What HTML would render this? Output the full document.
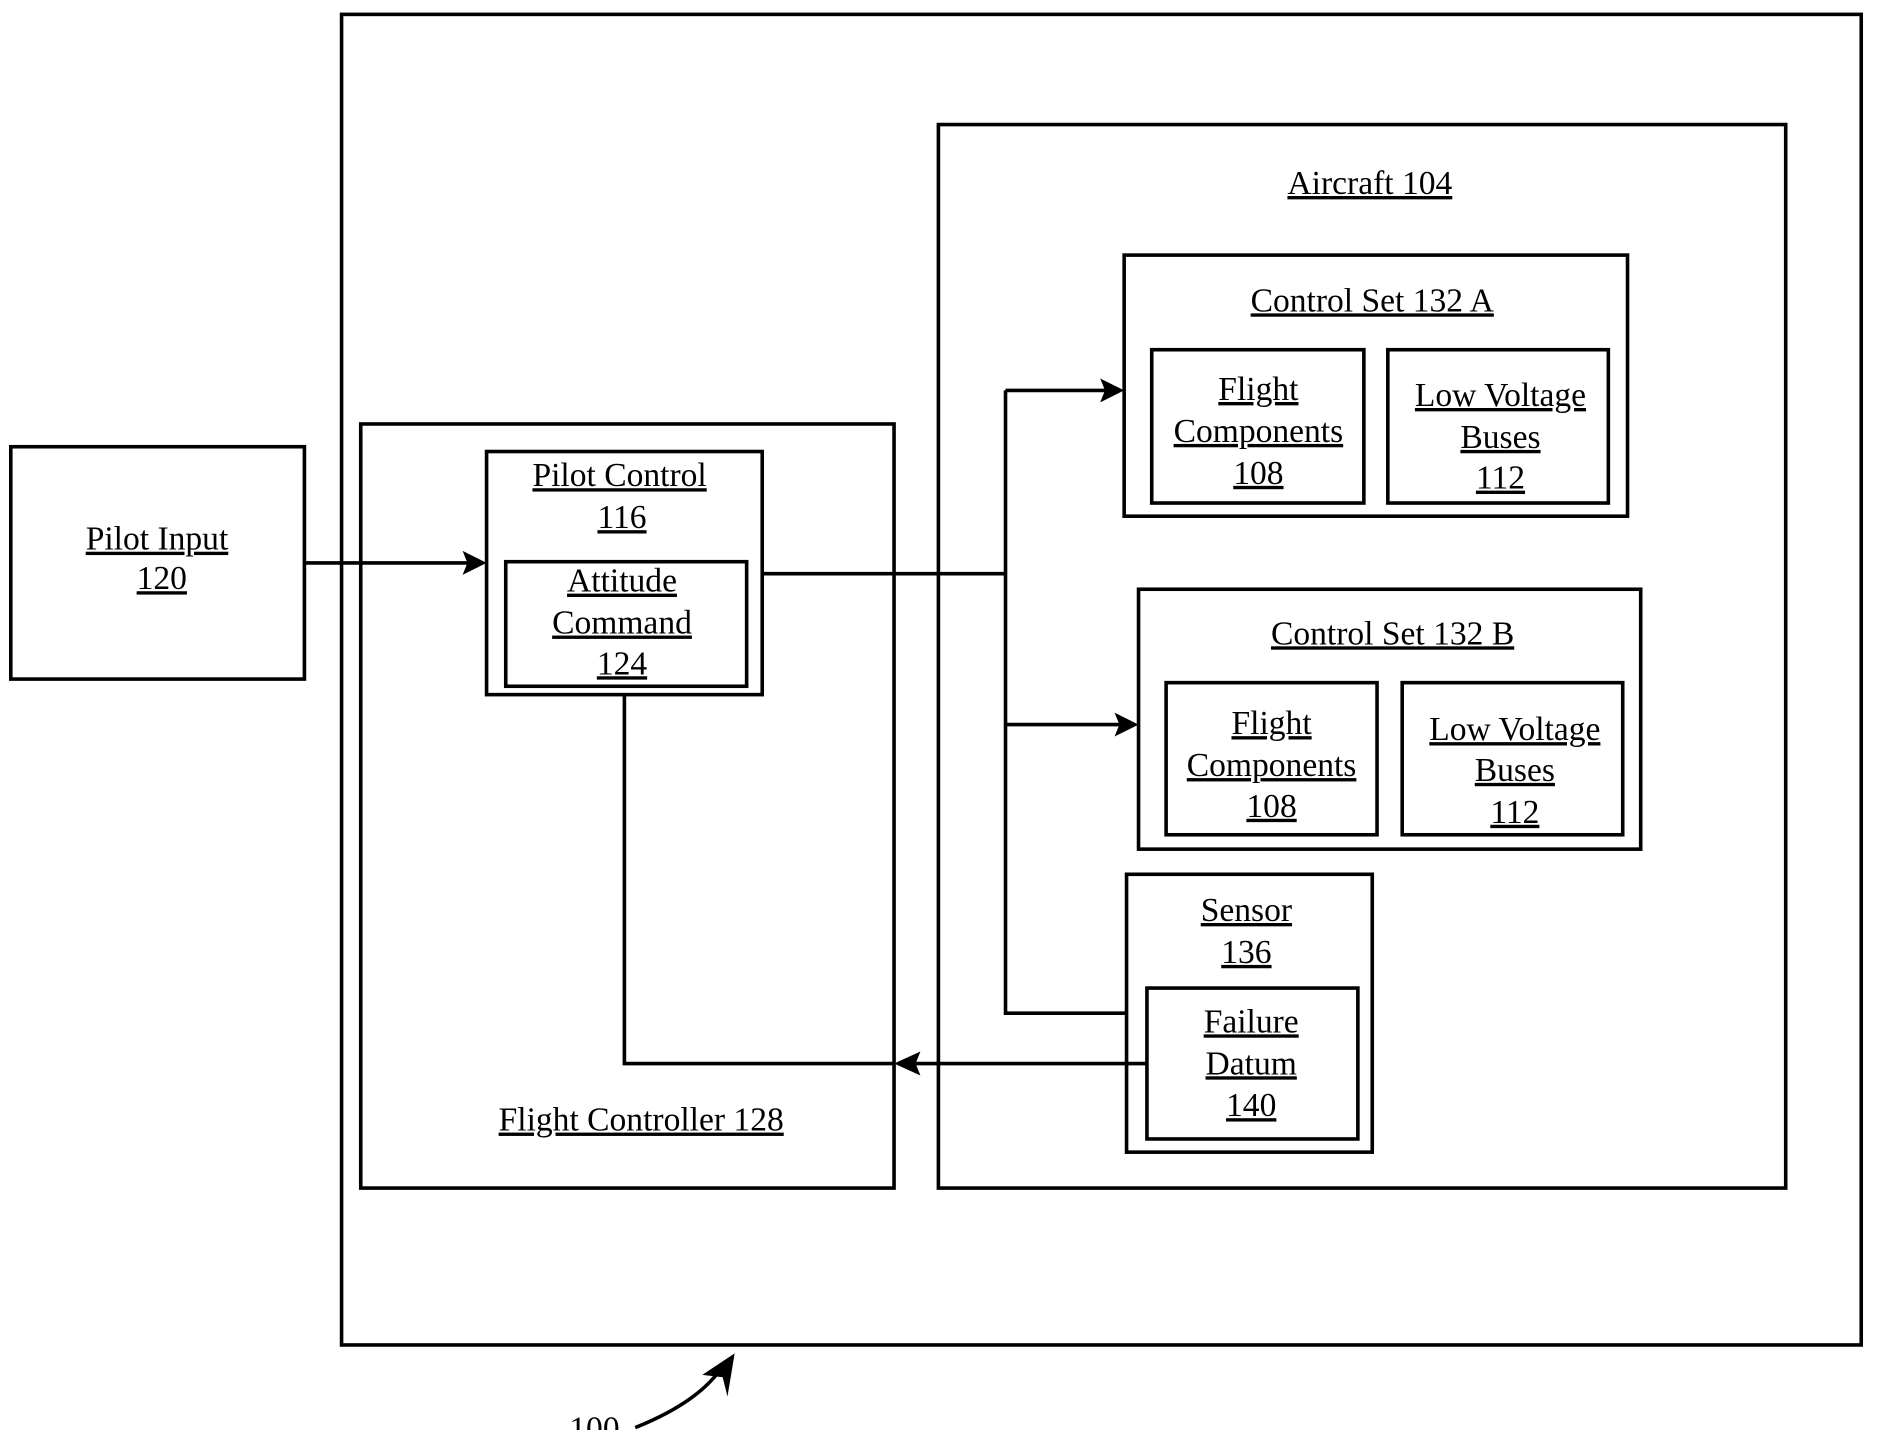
<!DOCTYPE html>
<html><head><style>html,body{margin:0;padding:0;background:#fff}svg{display:block}</style></head>
<body>
<svg width="1878" height="1430" viewBox="0 0 1567 1194" preserveAspectRatio="none" xmlns="http://www.w3.org/2000/svg">
<g fill="none" stroke="#000" stroke-width="3">
<rect x="285" y="12" width="1268" height="1111"/>
<rect x="783" y="104" width="707" height="888"/>
<rect x="938" y="213" width="420" height="218"/>
<rect x="961" y="292" width="177" height="128"/>
<rect x="1158" y="292" width="184" height="128"/>
<rect x="950" y="492" width="419" height="217"/>
<rect x="973" y="570" width="176" height="127"/>
<rect x="1170" y="570" width="184" height="127"/>
<rect x="940" y="730" width="205" height="232"/>
<rect x="957" y="825" width="176" height="126"/>
<rect x="9" y="373" width="245" height="194"/>
<rect x="301" y="354" width="445" height="638"/>
<rect x="406" y="377" width="230" height="203"/>
<rect x="422" y="469" width="201" height="104"/>
<path d="M254 470H398"/>
<path d="M636 479H839M839 326V846H940M839 326H930M839 605H942"/>
<path d="M957 888H756M746 888H521V580"/>
<path d="M530 1192C560 1180 585 1165 600 1145"/>
</g>
<g fill="#000">
<path d="M406 470L386 460L390 470L386 480Z"/>
<path d="M938 326L918 316L922 326L918 336Z"/>
<path d="M950 605L930 595L934 605L930 615Z"/>
<path d="M746 888L768 878L764 888L768 898Z"/>
<path d="M613 1130L586 1148L603 1150L607 1166Z"/>
</g>
<g font-family="Liberation Serif, serif" font-size="28" text-anchor="middle" text-decoration="underline" fill="#000">
<text x="1143" y="162">Aircraft 104</text>
<text x="1145" y="260">Control Set 132 A</text>
<text x="1050" y="334">Flight</text><text x="1050" y="369">Components</text><text x="1050" y="404">108</text>
<text x="1252" y="339">Low Voltage</text><text x="1252" y="374">Buses</text><text x="1252" y="408">112</text>
<text x="1162" y="538">Control Set 132 B</text>
<text x="1061" y="613">Flight</text><text x="1061" y="648">Components</text><text x="1061" y="682">108</text>
<text x="1264" y="618">Low Voltage</text><text x="1264" y="652">Buses</text><text x="1264" y="687">112</text>
<text x="1040" y="769">Sensor</text><text x="1040" y="804">136</text>
<text x="1044" y="862">Failure</text><text x="1044" y="897">Datum</text><text x="1044" y="932">140</text>
<text x="131" y="459">Pilot Input</text><text x="135" y="492">120</text>
<text x="517" y="406">Pilot Control</text><text x="519" y="441">116</text>
<text x="519" y="494">Attitude</text><text x="519" y="529">Command</text><text x="519" y="563">124</text>
<text x="535" y="944">Flight Controller 128</text>
<text x="496" y="1202" text-decoration="none">100</text>
</g>
</svg>
</body></html>
